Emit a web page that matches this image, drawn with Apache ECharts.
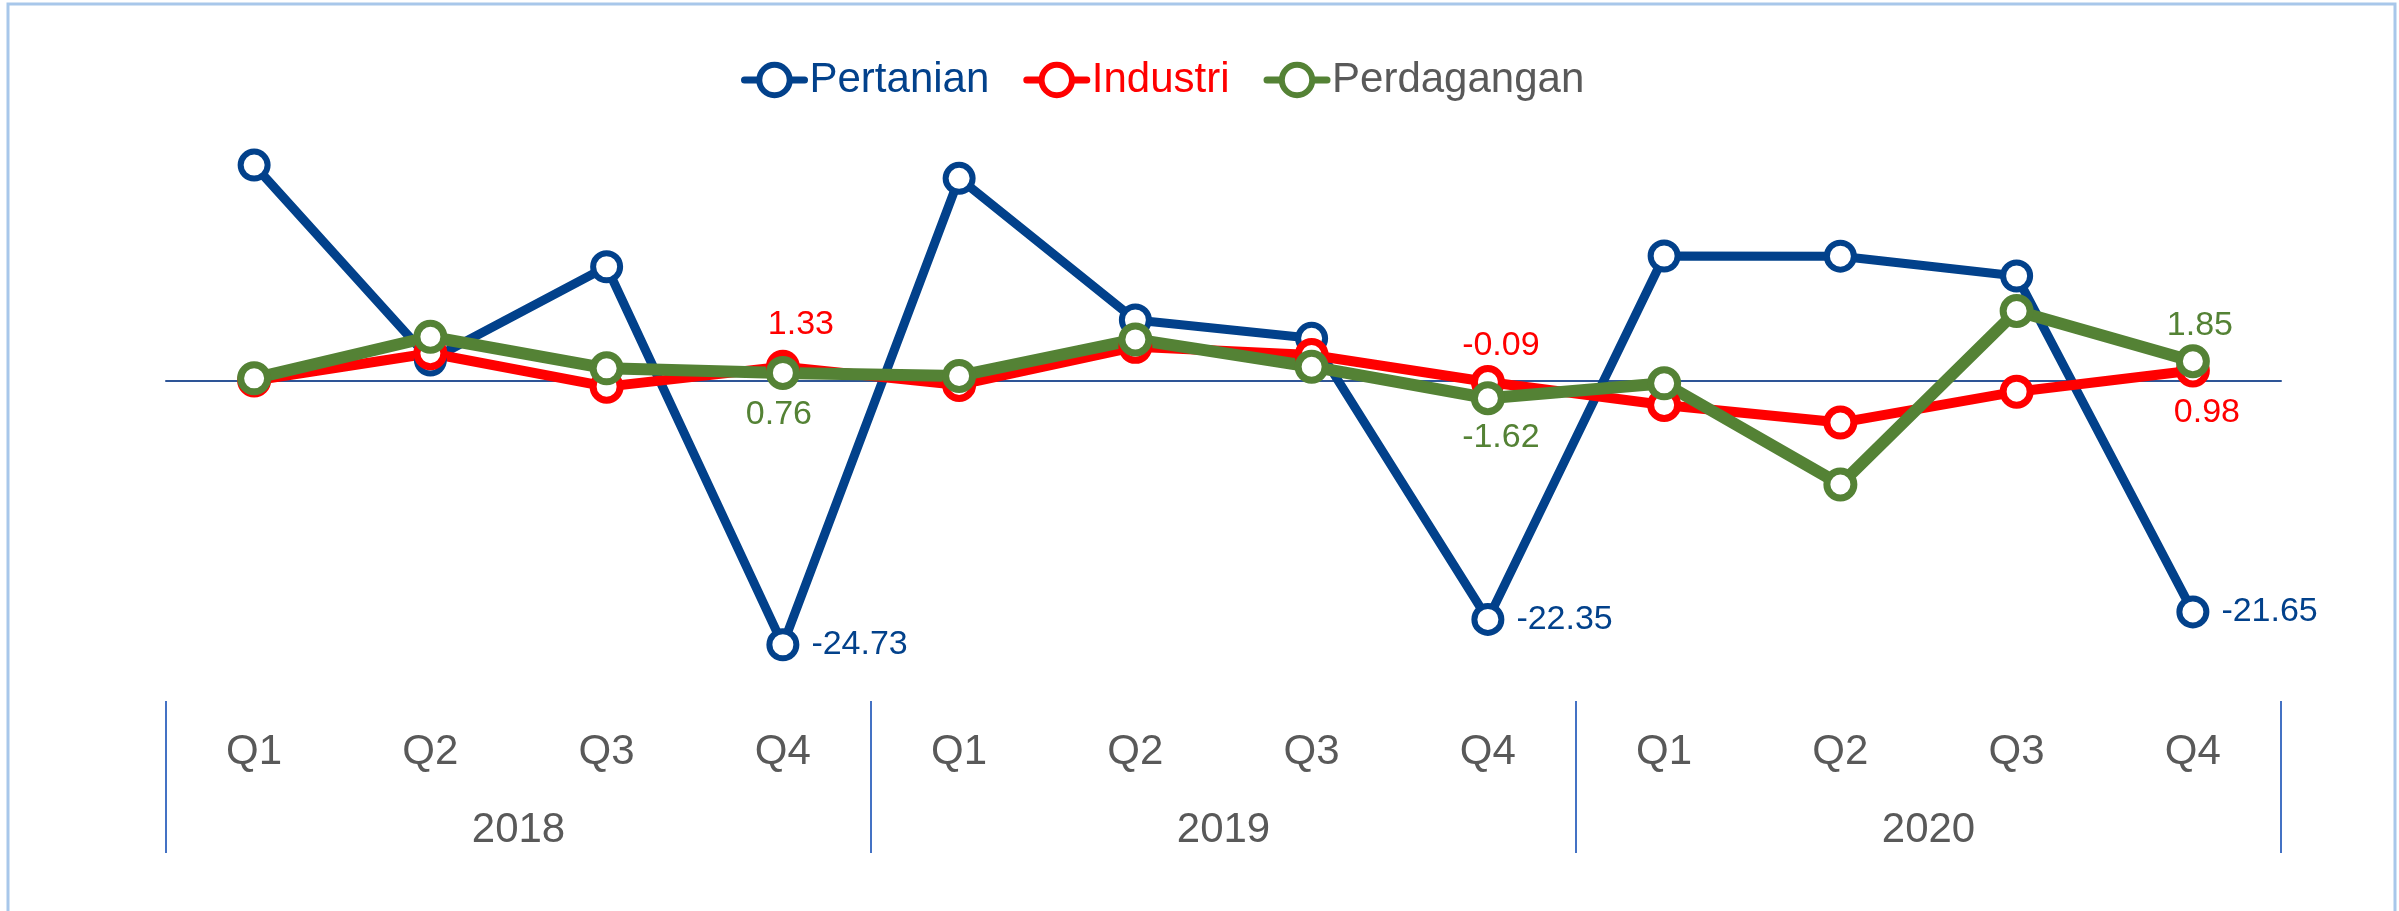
<!DOCTYPE html>
<html>
<head>
<meta charset="utf-8">
<title>Pertumbuhan Sektor</title>
<script src="https://cdn.jsdelivr.net/npm/echarts@6/dist/echarts.min.js"></script>
<style>
    html, body { margin: 0; padding: 0; background: #fff; }
    #chart { width: 2399px; height: 911px; }
</style>
</head>
<body>
<div id="chart"></div>
<script>
//kategori
const quarters = ['Q1', 'Q2', 'Q3', 'Q4', 'Q1', 'Q2', 'Q3', 'Q4', 'Q1', 'Q2', 'Q3', 'Q4'];
const years = ['2018', '2019', '2020'];

//data seri
const pertanian = [20.24, 1.97, 10.71, -24.73, 19.0, 5.72, 4.0, -22.35, 11.72, 11.7, 9.84, -21.65];
const industri = [0.05, 2.6, -0.53, 1.33, -0.37, 3.2, 2.44, -0.09, -2.25, -3.9, -1.0, 0.98];
const perdagangan = [0.25, 4.15, 1.19, 0.76, 0.47, 3.9, 1.34, -1.62, -0.22, -9.7, 6.56, 1.85];

//titik yang diberi label
const pertanianLabels = [3, 7, 11];
const industriLabels = { 3: 'top', 7: 'top', 11: 'bottom' };
const perdaganganLabels = { 3: 'bottom', 7: 'bottom', 11: 'top' };

const font = "'Liberation Sans Narrow', 'Arial Narrow', 'Liberation Sans', Arial, sans-serif";
const blue = '#02418B';
const red = '#FF0000';
const green = '#548235';
const gray = '#595959';

let chart = echarts.init(document.getElementById('chart'));

//buat data dengan label di titik tertentu
function withLabels(values, labels, color, offsets) {
    return values.map(function (v, i) {
        let pos = Array.isArray(labels) ? (labels.indexOf(i) >= 0 ? 'right' : null) : labels[i];
        if (!pos) return v;
        return {
            value: v,
            label: {
                show: true,
                position: pos,
                distance: pos == 'right' ? 12 : 8,
                offset: offsets && offsets[i] ? offsets[i] : [0, 0],
                color: color,
                fontSize: 34,
                fontFamily: font,
                formatter: function (p) { return p.value.toFixed(2); }
            }
        };
    });
}

function lineSeries(name, values, color, width, border, labels, offsets) {
    return {
        name: name,
        type: 'line',
        xAxisIndex: 0,
        data: withLabels(values, labels, color, offsets),
        symbol: 'circle',
        symbolSize: 27,
        showAllSymbol: true,
        lineStyle: { color: color, width: width },
        itemStyle: { color: '#fff', borderColor: color, borderWidth: border },
        emphasis: { disabled: true },
        animation: false
    };
}

let option = {
    backgroundColor: '#fff',
    graphic: [{
        type: 'rect',
        shape: { x: 8, y: 4, width: 2387, height: 1000 },
        style: { fill: 'none', stroke: '#A8C7EA', lineWidth: 3 },
        silent: true
    }],
    legend: {
        left: 736,
        top: 54,
        itemWidth: 60,
        itemHeight: 38,
        itemGap: 34,
        textStyle: { fontSize: 42, fontFamily: font },
        lineStyle: { width: 7, cap: 'round' },
        itemStyle: { borderWidth: 6 },
        data: [
            { name: 'Pertanian', textStyle: { color: blue } },
            { name: 'Industri', textStyle: { color: red } },
            { name: 'Perdagangan', textStyle: { color: gray } }
        ]
    },
    grid: {
        left: 166,
        right: 118,
        top: 61,
        bottom: 210
    },
    xAxis: [
        {
            //garis nol
            type: 'category',
            data: quarters,
            axisLine: { onZero: true, lineStyle: { color: '#2E5597', width: 2 } },
            axisTick: { show: false },
            axisLabel: { show: false },
            splitLine: { show: false }
        },
        {
            //label kuartal
            type: 'category',
            data: quarters,
            position: 'bottom',
            axisLine: { show: false, onZero: false },
            axisTick: { show: false },
            axisLabel: { color: gray, fontSize: 42, fontFamily: font, margin: 30 }
        },
        {
            //label tahun
            type: 'category',
            data: years,
            position: 'bottom',
            axisLine: { show: false, onZero: false },
            axisTick: { show: true, length: 152, lineStyle: { color: '#4472C4', width: 2 } },
            axisLabel: { color: gray, fontSize: 42, fontFamily: font, margin: 108 }
        }
    ],
    yAxis: {
        type: 'value',
        min: -30,
        max: 30,
        interval: 10,
        show: false,
        splitLine: { show: false }
    },
    series: [
        lineSeries('Pertanian', pertanian, blue, 9, 6, pertanianLabels),
        lineSeries('Industri', industri, red, 10, 7, industriLabels, { 3: [18, 0], 7: [13, 6], 11: [14, 0] }),
        lineSeries('Perdagangan', perdagangan, green, 12, 7, perdaganganLabels, { 3: [-4, 0], 7: [13, -3], 11: [7, 6] })
    ]
};
chart.setOption(option);
</script>
</body>
</html>
